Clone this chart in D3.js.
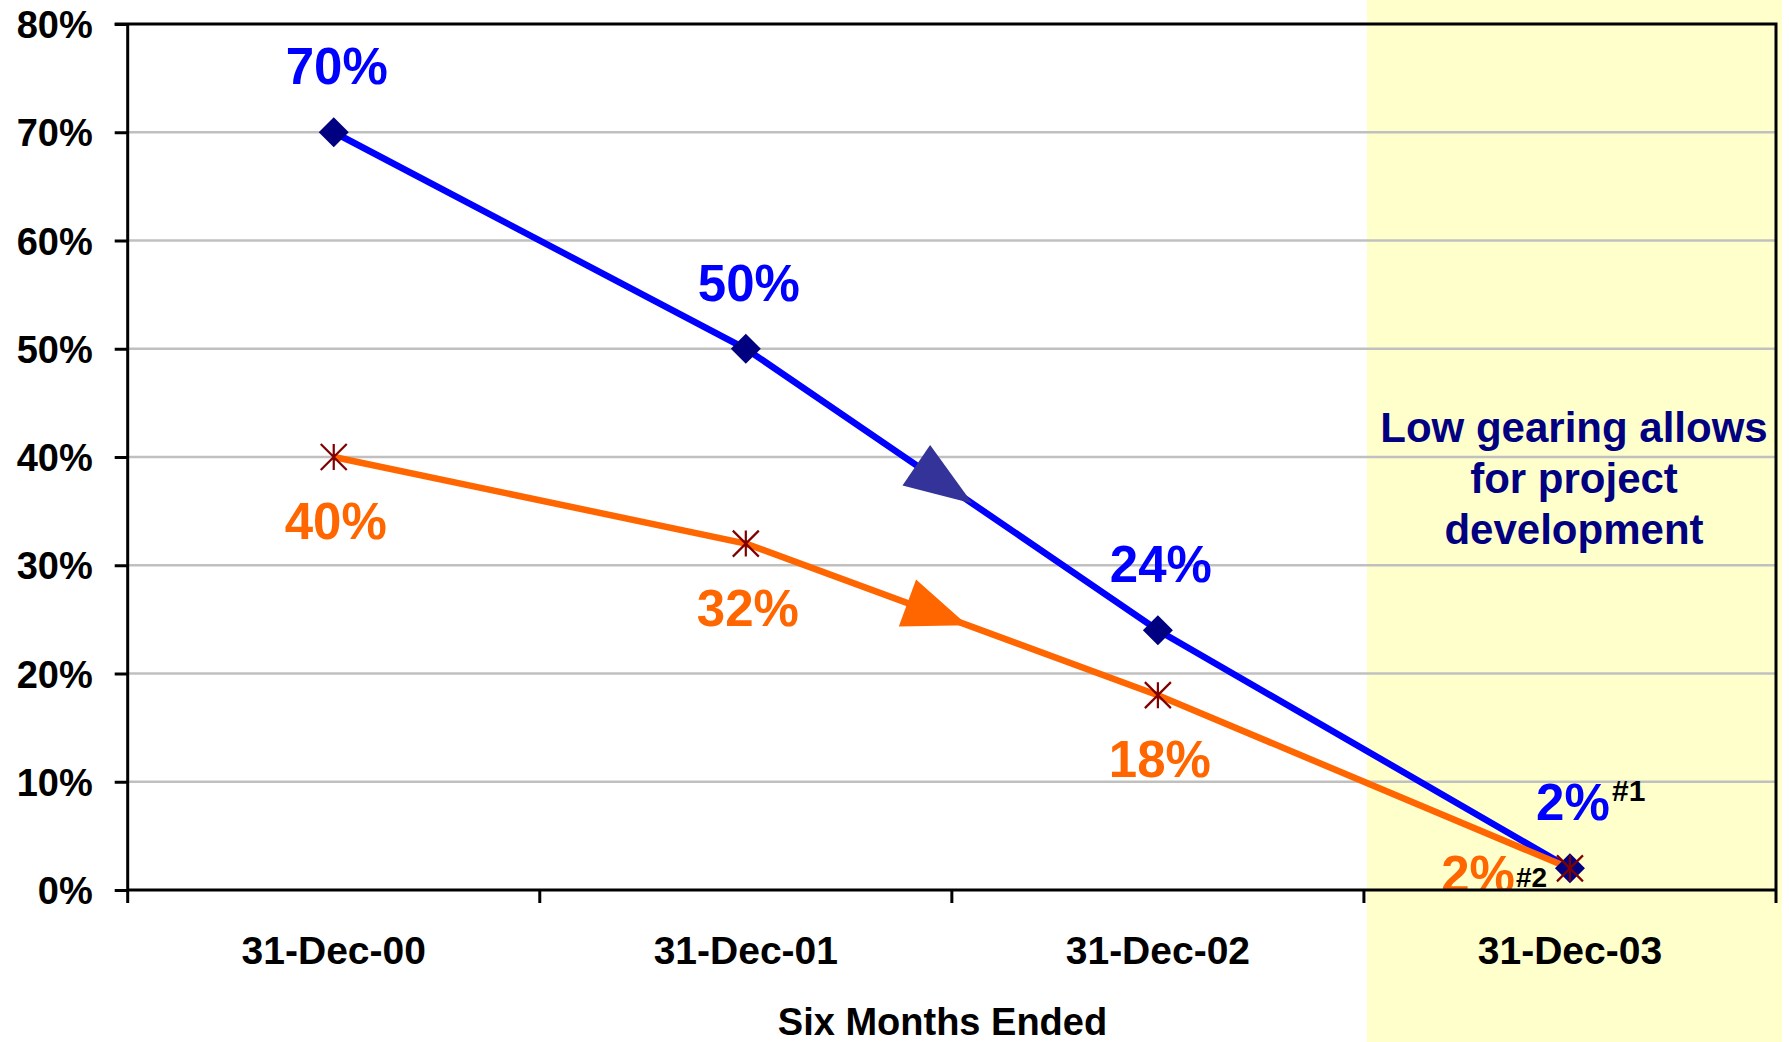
<!DOCTYPE html>
<html>
<head>
<meta charset="utf-8">
<script src="https://cdn.jsdelivr.net/npm/d3@7"></script>
<style>
  html, body { margin: 0; padding: 0; background: #ffffff; }
  svg { display: block; }
  text { font-family: "Liberation Sans", Arial, Helvetica, sans-serif; font-weight: bold; }
</style>
</head>
<body>
<svg id="chart" width="1789" height="1042"></svg>
<script>
// Gearing by period
const categories = ["31-Dec-00", "31-Dec-01", "31-Dec-02", "31-Dec-03"];
const gearingA = [70, 50, 24, 2];   // blue series
const gearingB = [40, 32, 18, 2];   // orange series
const notesA = ["", "", "", "#1"];
const notesB = ["", "", "", "#2"];
const yTicks = [0, 10, 20, 30, 40, 50, 60, 70, 80];
const highlightCategory = "31-Dec-03";
const xTitle = "Six Months Ended";
const noteLines = ["Low gearing allows", "for project", "development"];

const W = 1789, H = 1042;
const plot = { left: 127.7, right: 1776, top: 24, bottom: 890 };

const svg = d3.select("#chart");

const x = d3.scaleBand().domain(categories).range([plot.left, plot.right]).padding(0);
const y = d3.scaleLinear().domain([0, 80]).range([plot.bottom, plot.top]);
const cx = c => x(c) + x.bandwidth() / 2;

const BLUE = "#0000FF", NAVY = "#000080", ORANGE = "#FF6600", MAROON = "#800000";

// highlighted period background
svg.append("rect")
  .attr("x", x(highlightCategory) + 3)
  .attr("y", 0)
  .attr("width", W - 7 - (x(highlightCategory) + 3))
  .attr("height", H)
  .attr("fill", "#FFFFCC");

// horizontal gridlines
svg.append("g").selectAll("line")
  .data(yTicks.filter(t => t > 0 && t < 80))
  .join("line")
  .attr("x1", plot.left).attr("x2", plot.right)
  .attr("y1", d => y(d)).attr("y2", d => y(d))
  .attr("stroke", "#C0C0C0").attr("stroke-width", 2.5);

// note text in the highlighted period
svg.append("text")
  .attr("text-anchor", "middle")
  .attr("fill", NAVY)
  .attr("font-size", 42)
  .selectAll("tspan")
  .data(noteLines)
  .join("tspan")
  .attr("x", 1574)
  .attr("y", (d, i) => 442 + i * 51)
  .text(d => d);

svg.append("clipPath").attr("id", "plotclip")
  .append("rect")
  .attr("x", plot.left).attr("y", 0)
  .attr("width", plot.right - plot.left).attr("height", plot.bottom);

// series lines
const lineGen = vals => d3.line().x((d, i) => cx(categories[i])).y(d => y(d))(vals);

svg.append("path").attr("d", lineGen(gearingA))
  .attr("fill", "none").attr("stroke", BLUE).attr("stroke-width", 6.5);
svg.append("path").attr("d", lineGen(gearingB))
  .attr("fill", "none").attr("stroke", ORANGE).attr("stroke-width", 6.5);

// direction arrowheads placed on the middle segment of each line
function arrowHead(vals, seg, frac, len, half) {
  const x0 = cx(categories[seg]), y0 = y(vals[seg]);
  const x1 = cx(categories[seg + 1]), y1 = y(vals[seg + 1]);
  const dx = x1 - x0, dy = y1 - y0, L = Math.hypot(dx, dy);
  const ux = dx / L, uy = dy / L;
  const tx = x0 + dx * frac, ty = y0 + dy * frac;
  const bx = tx - ux * len, by = ty - uy * len;
  const p = d3.path();
  p.moveTo(tx, ty);
  p.lineTo(bx - uy * half, by + ux * half);
  p.lineTo(bx + uy * half, by - ux * half);
  p.closePath();
  return p.toString();
}
svg.append("path").attr("d", arrowHead(gearingA, 1, 0.55, 68, 24.5)).attr("fill", "#333399");
svg.append("path").attr("d", arrowHead(gearingB, 1, 0.538, 64, 25)).attr("fill", ORANGE);

// markers: diamonds for the blue series, star crosses for the orange one
svg.append("g").selectAll("path")
  .data(gearingA)
  .join("path")
  .attr("d", d3.symbol(d3.symbolSquare, 450))
  .attr("transform", (d, i) => `translate(${cx(categories[i])},${y(d)}) rotate(45)`)
  .attr("fill", NAVY);

function starPath(r) {
  const p = d3.path();
  p.moveTo(-r, -r); p.lineTo(r, r);
  p.moveTo(r, -r); p.lineTo(-r, r);
  p.moveTo(0, -r); p.lineTo(0, r);
  return p.toString();
}
svg.append("g").selectAll("path")
  .data(gearingB)
  .join("path")
  .attr("d", starPath(13))
  .attr("transform", (d, i) => `translate(${cx(categories[i])},${y(d)})`)
  .attr("fill", "none").attr("stroke", MAROON).attr("stroke-width", 2.2);

// value labels
const labels = svg.append("g").attr("clip-path", "url(#plotclip)");
gearingA.forEach((v, i) => {
  labels.append("text")
    .attr("x", cx(categories[i]) + 3)
    .attr("y", y(v) - 48)
    .attr("text-anchor", "middle")
    .attr("font-size", 51)
    .attr("fill", BLUE)
    .text(v + "%");
  if (notesA[i]) {
    labels.append("text")
      .attr("x", cx(categories[i]) + 42)
      .attr("y", y(v) - 67)
      .attr("font-size", 30)
      .attr("fill", "#000")
      .text(notesA[i]);
  }
});
gearingB.forEach((v, i) => {
  const last = i === gearingB.length - 1;
  labels.append("text")
    .attr("x", last ? cx(categories[i]) - 55 : cx(categories[i]) + 2)
    .attr("y", last ? y(0) + 2 : y(v) + 82)
    .attr("text-anchor", last ? "end" : "middle")
    .attr("font-size", 51)
    .attr("fill", ORANGE)
    .text(v + "%");
  if (notesB[i]) {
    labels.append("text")
      .attr("x", cx(categories[i]) - 54)
      .attr("y", y(0) - 3)
      .attr("font-size", 28)
      .attr("fill", "#000")
      .text(notesB[i]);
  }
});

// plot frame (top and right edges)
svg.append("path")
  .attr("d", `M${plot.left - 13},${plot.top}H${plot.right}V${plot.bottom + 13}`)
  .attr("fill", "none").attr("stroke", "#000").attr("stroke-width", 3);

// y axis
const yAxis = d3.axisLeft(y)
  .tickValues(yTicks)
  .tickSize(13)
  .tickPadding(0)
  .tickFormat(d => d + "%");
const gy = svg.append("g").attr("transform", `translate(${plot.left},0)`).call(yAxis);
gy.select(".domain").remove();
gy.append("line")
  .attr("x1", 0).attr("x2", 0)
  .attr("y1", plot.top).attr("y2", plot.bottom + 13)
  .attr("stroke", "#000").attr("stroke-width", 3);
gy.selectAll(".tick line").attr("stroke", "#000").attr("stroke-width", 3);
gy.selectAll(".tick text")
  .attr("x", -35)
  .attr("dy", null)
  .attr("y", 13.5)
  .attr("font-size", 38)
  .attr("fill", "#000")
  .style("font-family", "'Liberation Sans', Arial, sans-serif")
  .style("font-weight", "bold");

// x axis: category labels centred in bands, tick marks at band boundaries
const xAxis = d3.axisBottom(x).tickSize(0).tickPadding(0);
const gx = svg.append("g").attr("transform", `translate(0,${plot.bottom})`).call(xAxis);
gx.select(".domain").remove();
gx.selectAll(".tick text")
  .attr("y", 74)
  .attr("dy", null)
  .attr("font-size", 39)
  .attr("fill", "#000")
  .style("font-family", "'Liberation Sans', Arial, sans-serif")
  .style("font-weight", "bold");
gx.append("line")
  .attr("x1", plot.left).attr("x2", plot.right)
  .attr("y1", 0).attr("y2", 0)
  .attr("stroke", "#000").attr("stroke-width", 3);
gx.selectAll(".boundary")
  .data(categories.slice(1))
  .join("line")
  .attr("class", "boundary")
  .attr("x1", d => x(d)).attr("x2", d => x(d))
  .attr("y1", 0).attr("y2", 13)
  .attr("stroke", "#000").attr("stroke-width", 3);

// x axis title
svg.append("text")
  .attr("x", 942.5)
  .attr("y", 1035)
  .attr("text-anchor", "middle")
  .attr("font-size", 38)
  .attr("fill", "#000")
  .text(xTitle);
</script>
</body>
</html>
